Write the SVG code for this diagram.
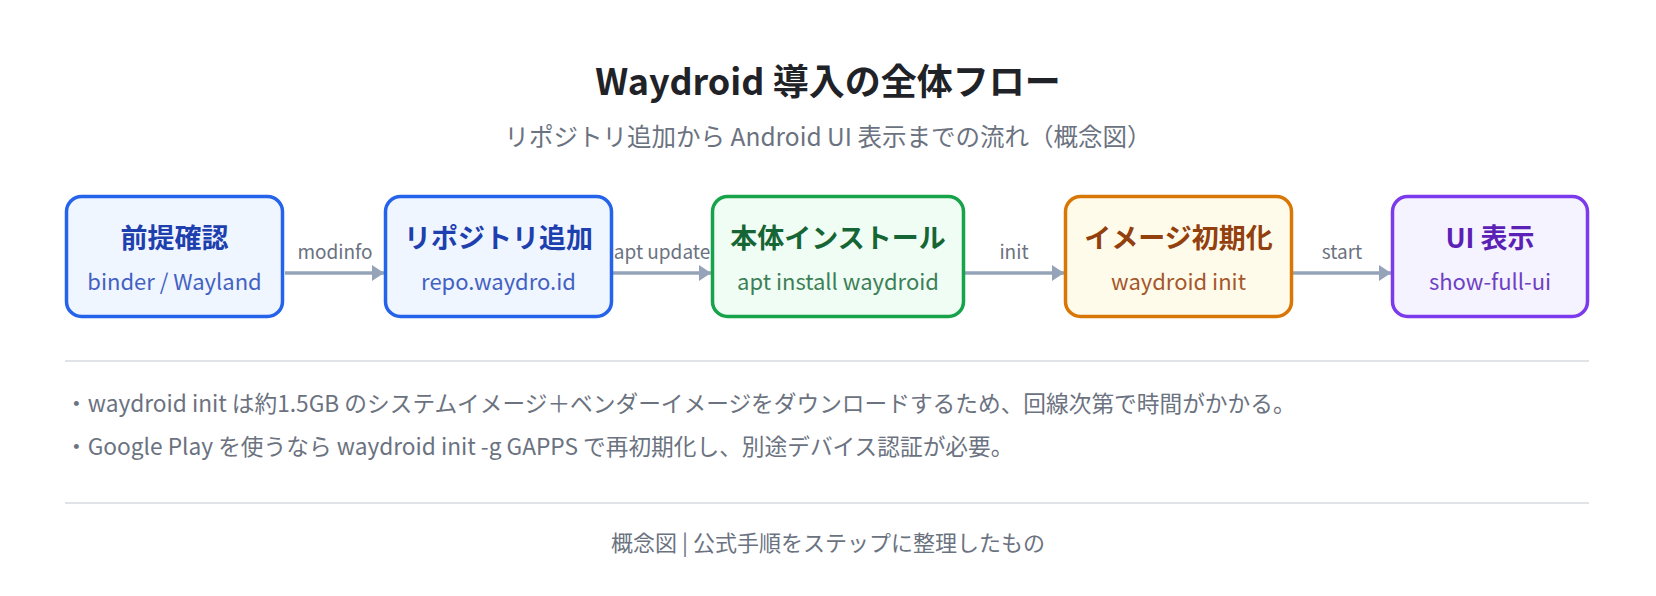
<svg xmlns="http://www.w3.org/2000/svg" width="1656" height="596" viewBox="0 0 1656 596">
<style>
text{font-family:"Noto Sans CJK JP","Noto Sans",sans-serif}
.title{font-size:36px;font-weight:700;fill:#1f2328}
.sub{font-size:24.5px;fill:#6b7280}
.nt{font-size:27px;font-weight:700}
.ns{font-size:22px}
.lbl{font-size:19px;fill:#6b7280}
.note{font-size:22.7px;fill:#6b7280}
.foot{font-size:22px;fill:#6b7280}
.edge{stroke:#94a3b8;stroke-width:3.5;fill:none}
.div{stroke:#e0e3e8;stroke-width:2}
.box{stroke-width:3.5}
</style>
<defs>
<marker id="ah" markerWidth="12" markerHeight="16" refX="12" refY="8" orient="auto" markerUnits="userSpaceOnUse">
<path d="M0,0 L12,8 L0,16 Z" fill="#94a3b8"/>
</marker>
</defs>
<rect width="1656" height="596" fill="#ffffff"/>
<text class="title" x="828" y="95" text-anchor="middle">Waydroid 導入の全体フロー</text>
<text class="sub" x="828" y="146" text-anchor="middle">リポジトリ追加から Android UI 表示までの流れ（概念図）</text>
<g id="connectors">
<line class="edge" x1="285" y1="273" x2="384" y2="273" marker-end="url(#ah)"/>
<text class="lbl" x="335" y="259" text-anchor="middle">modinfo</text>
<line class="edge" x1="613" y1="273" x2="711" y2="273" marker-end="url(#ah)"/>
<text class="lbl" x="662" y="259" text-anchor="middle">apt update</text>
<line class="edge" x1="965" y1="273" x2="1064" y2="273" marker-end="url(#ah)"/>
<text class="lbl" x="1014" y="259" text-anchor="middle">init</text>
<line class="edge" x1="1293" y1="273" x2="1391" y2="273" marker-end="url(#ah)"/>
<text class="lbl" x="1342" y="259" text-anchor="middle">start</text>
</g>
<g id="n1">
<rect class="box" x="66.5" y="196.5" width="216" height="120" rx="15" fill="#eff6ff" stroke="#2563eb"/>
<text class="nt" x="174.5" y="248" text-anchor="middle" fill="#1e40af">前提確認</text>
<text class="ns" x="174.5" y="290" text-anchor="middle" fill="#4361c2">binder / Wayland</text>
</g>
<g id="n2">
<rect class="box" x="385.5" y="196.5" width="226" height="120" rx="15" fill="#eff6ff" stroke="#2563eb"/>
<text class="nt" x="498.5" y="248" text-anchor="middle" fill="#1e40af">リポジトリ追加</text>
<text class="ns" x="498.5" y="290" text-anchor="middle" fill="#4361c2">repo.waydro.id</text>
</g>
<g id="n3">
<rect class="box" x="712.5" y="196.5" width="251" height="120" rx="15" fill="#f0fdf4" stroke="#16a34a"/>
<text class="nt" x="838" y="248" text-anchor="middle" fill="#166534">本体インストール</text>
<text class="ns" x="838" y="290" text-anchor="middle" fill="#3d7f56">apt install waydroid</text>
</g>
<g id="n4">
<rect class="box" x="1065.5" y="196.5" width="226" height="120" rx="15" fill="#fffbeb" stroke="#d97706"/>
<text class="nt" x="1178.5" y="248" text-anchor="middle" fill="#92400e">イメージ初期化</text>
<text class="ns" x="1178.5" y="290" text-anchor="middle" fill="#a5572c">waydroid init</text>
</g>
<g id="n5">
<rect class="box" x="1392.5" y="196.5" width="195" height="120" rx="15" fill="#f5f3ff" stroke="#7c3aed"/>
<text class="nt" x="1490" y="248" text-anchor="middle" fill="#5b21b6">UI 表示</text>
<text class="ns" x="1490" y="290" text-anchor="middle" fill="#6d40c4">show-full-ui</text>
</g>
<line class="div" x1="65" y1="361" x2="1589" y2="361"/>
<text class="note" x="65" y="412">・waydroid init は約1.5GB のシステムイメージ＋ベンダーイメージをダウンロードするため、回線次第で時間がかかる。</text>
<text class="note" x="65" y="455">・Google Play を使うなら waydroid init -g GAPPS で再初期化し、別途デバイス認証が必要。</text>
<line class="div" x1="65" y1="503" x2="1589" y2="503"/>
<text class="foot" x="828" y="551" text-anchor="middle">概念図 | 公式手順をステップに整理したもの</text>
</svg>
